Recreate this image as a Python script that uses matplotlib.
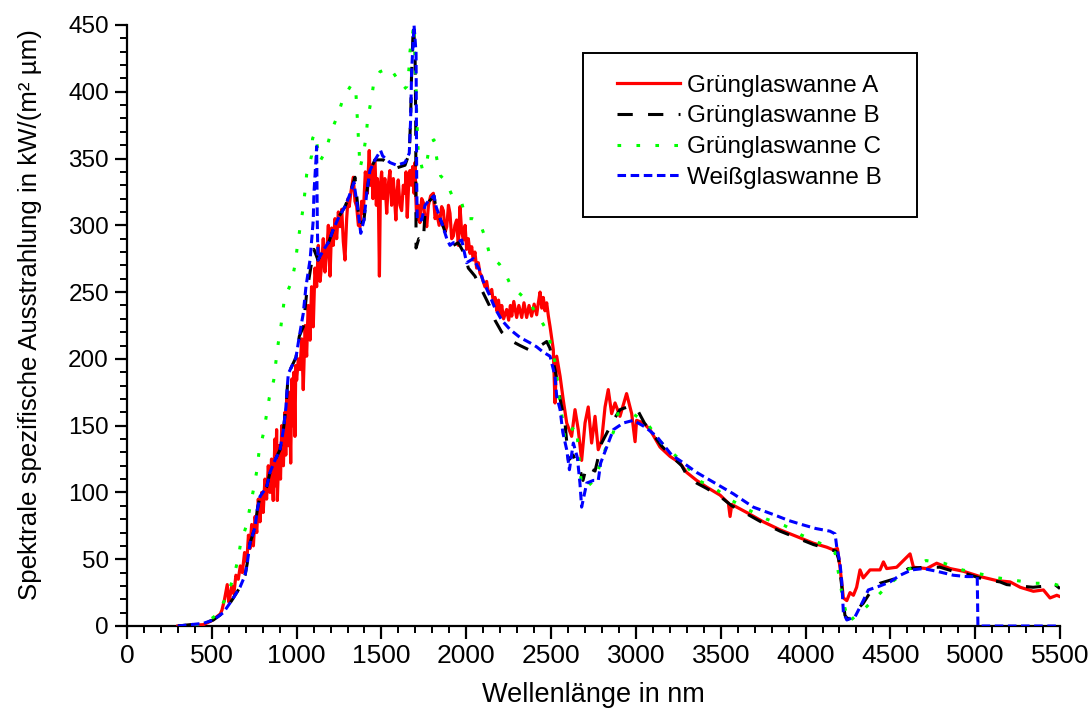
import matplotlib
matplotlib.use('Agg')
import matplotlib.pyplot as plt
from matplotlib.ticker import MultipleLocator
from matplotlib.patches import Rectangle

plt.rcParams['font.family'] = ['Liberation Sans', 'DejaVu Sans']

# Gruenglaswanne A (red, noisy)
wl_a = [300, 450, 500, 550, 560, 575, 591, 600, 607, 618, 630, 642, 656, 668, 680, 693, 706, 716,
        725, 735, 745, 755, 765, 774, 784, 794, 803, 813, 823, 833, 843, 852, 862, 872, 877, 882,
        886, 897, 905, 912, 922, 931, 936, 941, 951, 958, 965, 972, 978, 984, 990, 995,
        1000, 1010, 1020, 1030, 1039, 1050, 1059, 1068, 1079, 1088, 1098, 1108, 1118, 1128, 1138,
        1147, 1157, 1167, 1177, 1187, 1197, 1206, 1216, 1226, 1236, 1246, 1256, 1266, 1275, 1285,
        1295, 1303, 1310, 1320, 1334, 1344, 1354, 1364, 1374, 1383, 1393, 1405, 1417, 1428, 1435,
        1442, 1450, 1462, 1470, 1476, 1482, 1488, 1494, 1501, 1510, 1520, 1531, 1540, 1550, 1560,
        1570, 1585, 1592, 1599, 1609, 1619, 1629, 1639, 1645, 1652, 1660, 1668, 1676, 1684, 1692,
        1698, 1703, 1708, 1717, 1727, 1737, 1747, 1757, 1767, 1777, 1790, 1806, 1816, 1826, 1840,
        1855, 1865, 1875, 1885, 1895, 1904, 1914, 1924, 1933, 1943, 1953, 1963, 1973, 1983, 1993,
        2002, 2012, 2022, 2032, 2041, 2051, 2061, 2071, 2081, 2091, 2100, 2110, 2120, 2130, 2140,
        2150, 2160, 2170, 2180, 2190, 2200, 2209, 2220, 2238, 2250, 2260, 2268, 2280, 2297, 2310,
        2327, 2340, 2356, 2370, 2385, 2400, 2415, 2425, 2435, 2445, 2454, 2464, 2474, 2484, 2494,
        2513, 2523, 2533, 2553, 2572, 2592, 2621, 2641, 2660, 2680, 2700, 2719, 2739,
        2759, 2778, 2798, 2818, 2837, 2857, 2877, 2906, 2945, 2975, 2995, 3004, 3044, 3083, 3142,
        3201, 3260, 3299, 3358, 3417, 3496, 3545, 3555, 3565, 3653, 3751, 3850, 3948, 4046, 4125,
        4164, 4188, 4203, 4223, 4243, 4262, 4282, 4301, 4321, 4340, 4380, 4439, 4459, 4478, 4537,
        4616, 4636, 4714, 4773, 4852, 4930, 5029, 5127, 5206, 5265, 5343, 5402, 5441, 5481, 5500]
val_a = [0, 1, 4, 9, 12, 20, 31, 18, 22, 30, 24, 38, 35, 45, 40, 55, 48, 68,
         58, 76, 60, 82, 70, 95, 78, 100, 85, 110, 95, 120, 100, 125, 94, 140, 105, 147,
         94, 135, 110, 150, 120, 160, 128, 170, 135, 175, 122, 185, 150, 190, 142, 195,
         184, 200, 192, 215, 177, 225, 202, 240, 214, 254, 224, 268, 254, 285, 258,
         270, 290, 265, 279, 300, 262, 298, 285, 305, 290, 310, 299, 312, 288, 274,
         305, 320, 314, 325, 336, 318, 314, 300, 299, 318, 309, 340, 324, 356, 330,
         345, 320, 349, 315, 335, 320, 262, 330, 340, 320, 335, 309, 330, 341, 315,
         335, 304, 325, 334, 315, 311, 330, 324, 340, 306, 330, 341, 330, 344, 324,
         347, 320, 304, 315, 302, 320, 317, 305, 299, 315, 322, 324, 305, 309, 300,
         314, 311, 295, 299, 315, 309, 290, 292, 300, 304, 285, 314, 295, 289, 300,
         282, 290, 279, 284, 274, 280, 268, 272, 264, 262, 258, 254, 258, 250, 249,
         252, 242, 246, 236, 244, 232, 240, 230, 237, 229, 240, 232, 243, 231, 240,
         231, 242, 231, 240, 232, 241, 233, 242, 250, 238, 246, 236, 242, 232, 224,
         207, 167, 202, 187, 169, 152, 142, 162, 147, 124, 152, 164, 137,
         157, 132, 139, 164, 177, 159, 167, 157, 174, 159, 138, 154, 152, 147, 134,
         127, 122, 115, 109, 104, 98, 92, 82, 91, 85, 78, 72, 67, 62, 59,
         57, 58, 44, 21, 19, 25, 23, 29, 42, 36, 42, 42, 48, 43, 44,
         54, 44, 43, 47, 43, 41, 37, 34, 33, 29, 26, 27, 21, 23, 22]

# Gruenglaswanne B (black, dashed)
wl_b = [300, 450, 509, 568, 617, 666, 696, 709, 725, 755, 768, 784, 823, 843, 872, 902, 922, 937,
        951, 996, 1016, 1039, 1059, 1083, 1102, 1126, 1156, 1191, 1216, 1252, 1285, 1310, 1344,
        1364, 1374, 1397, 1413, 1432, 1462, 1511, 1550, 1590, 1639, 1664, 1672, 1678, 1688, 1698,
        1702, 1704, 1720, 1747, 1757, 1782, 1810, 1822, 1855, 1885, 1924, 1953, 1992, 2012, 2051,
        2097, 2136, 2169, 2209, 2258, 2317, 2366, 2415, 2474, 2493, 2523, 2553, 2582, 2602, 2630,
        2650, 2670, 2688, 2710, 2729, 2759, 2798, 2867, 2906, 2950, 3004, 3050, 3092, 3150, 3211,
        3270, 3300, 3358, 3417, 3496, 3565, 3653, 3751, 3850, 3948, 4046, 4125, 4180, 4195, 4213,
        4232, 4250, 4280, 4300, 4340, 4380, 4439, 4517, 4606, 4700, 4793, 4870, 4950, 5050, 5146,
        5186, 5260, 5341, 5420, 5460, 5500]
val_b = [0, 2, 4.5, 10, 19, 29, 38, 47, 62, 74, 87, 97, 104, 115, 124, 132, 147, 164,
         189, 201, 217, 224, 249, 268, 282, 274, 281, 288, 297, 307, 314, 322, 336,
         309, 300, 304, 324, 341, 349, 349, 345, 343, 345, 354, 380, 416, 450, 430,
         380, 283, 290, 288, 310, 318, 322, 312, 302, 292, 285, 287, 278, 268, 262,
         250, 240, 229, 220, 214, 210, 207, 208, 213, 208, 192, 170, 152, 124, 128,
         122, 117, 109, 120, 118, 116, 137, 154, 162, 164, 163, 152, 145, 135, 127,
         120, 113, 107, 103, 97, 90, 84, 77, 71, 66, 61, 58, 56, 50, 30,
         8, 5, 8, 12, 17, 25, 32, 35, 43, 44, 44, 41, 39, 35, 33,
         31, 30, 29, 30, 32, 28]

# Gruenglaswanne C (green, dotted)
wl_c = [400, 460, 525, 588, 627, 653, 670, 706, 725, 747, 765, 778, 804, 821, 839, 865, 878, 892,
        908, 928, 971, 990, 1004, 1020, 1036, 1049, 1059, 1088, 1094, 1108, 1138, 1173, 1203, 1244,
        1274, 1326, 1350, 1360, 1374, 1393, 1409, 1419, 1440, 1455, 1491, 1550, 1592, 1633, 1650,
        1662, 1668, 1684, 1692, 1698, 1704, 1708, 1717, 1743, 1767, 1786, 1810, 1826, 1849, 1880,
        1914, 1969, 1997, 2036, 2077, 2114, 2140, 2195, 2234, 2262, 2331, 2366, 2431, 2484, 2507,
        2533, 2537, 2553, 2569, 2582, 2610, 2641, 2655, 2665, 2680, 2720, 2759, 2824, 2867, 2893,
        2981, 3064, 3152, 3211, 3284, 3368, 3466, 3565, 3663, 3771, 3879, 3977, 4085, 4174, 4191,
        4220, 4252, 4340, 4419, 4500, 4600, 4710, 4816, 4924, 5029, 5136, 5245, 5352, 5451, 5500]
val_c = [0, 2, 8, 22, 36, 49, 62, 76, 89, 103, 116, 130, 144, 157, 171, 184, 198, 212,
         225, 245, 258, 270, 284, 298, 311, 325, 338, 352, 365, 369, 348, 356, 370, 383,
         395, 406, 398, 375, 343, 353, 366, 380, 394, 407, 415, 418, 410, 402, 404,
         417, 430, 444, 451, 420, 404, 381, 355, 341, 347, 362, 364, 350, 337, 333,
         323, 319, 305, 305, 303, 290, 277, 271, 263, 255, 247, 243, 231, 219, 205,
         193, 179, 167, 153, 139, 145, 150, 141, 126, 104, 105, 110, 134, 145, 159,
         159, 152, 137, 130, 122, 109, 103, 94, 87, 80, 75, 68, 62, 55, 42,
         20, 3, 12, 22, 32, 42, 49, 47, 42, 39, 36, 34, 32, 32, 30]

# Weissglaswanne B (blue, short dashes)
wl_w = [300, 450, 509, 568, 617, 666, 696, 709, 725, 755, 768, 784, 823, 843, 872, 902, 922, 937,
        945, 951, 996, 1016, 1039, 1055, 1080, 1098, 1102, 1114, 1118, 1122, 1126, 1156, 1191, 1216,
        1252, 1285, 1310, 1338, 1364, 1378, 1397, 1413, 1432, 1462, 1495, 1507, 1550, 1590, 1639,
        1664, 1672, 1678, 1692, 1704, 1706, 1708, 1711, 1737, 1757, 1782, 1810, 1822, 1855, 1885,
        1904, 1924, 1943, 1973, 2002, 2041, 2077, 2100, 2136, 2169, 2209, 2258, 2317, 2376, 2415,
        2454, 2494, 2523, 2533, 2553, 2569, 2592, 2608, 2631, 2655, 2670, 2680, 2710, 2749, 2778,
        2792, 2828, 2867, 2926, 2985, 3054, 3122, 3211, 3270, 3358, 3466, 3574, 3692, 3820, 3900,
        3977, 4060, 4144, 4174, 4184, 4203, 4213, 4223, 4243, 4292, 4340, 4370, 4439, 4498, 4557,
        4626, 4694, 4773, 4871, 4950, 5012, 5016, 5500]
val_w = [0, 2, 4.5, 10, 19, 29, 38, 47, 62, 74, 87, 97, 104, 115, 124, 132, 147, 164,
         179, 189, 201, 217, 234, 254, 275, 304, 324, 349, 359, 300, 274, 281, 288, 297,
         307, 314, 322, 332, 309, 294, 304, 324, 341, 349, 356, 352, 347, 345, 347,
         354, 379, 416, 450, 429, 379, 329, 304, 304, 315, 319, 322, 314, 302, 290,
         285, 287, 287, 289, 272, 275, 267, 258, 248, 238, 229, 222, 216, 212, 209,
         205, 202, 187, 172, 162, 145, 132, 117, 137, 126, 107, 89, 107, 109, 109,
         122, 134, 147, 152, 154, 149, 142, 128, 123, 115, 107, 99, 89, 83, 79,
         76, 73, 71, 69, 59, 47, 34, 10, 4.5, 7, 19, 27, 30, 33, 38,
         42, 43, 41, 38, 37, 37, 0, 0]

fig = plt.figure(figsize=(10.9, 7.16), dpi=100)
ax = fig.add_axes([0.1165, 0.1257, 0.856, 0.8394])

ax.plot(wl_a, val_a, '-', color='#ff0000', lw=2.3, label='Grünglaswanne A', zorder=3)
ax.plot(wl_b, val_b, color='black', lw=2.2, linestyle=(0, (5, 5)), label='Grünglaswanne B', zorder=4)
ax.plot(wl_c, val_c, color='#00ff00', lw=2.2, linestyle=(0, (1.2, 5)), label='Grünglaswanne C', zorder=5)
ax.plot(wl_w, val_w, color='#0000ff', lw=2.2, linestyle=(0, (2.8, 1.5)), label='Weißglaswanne B', zorder=6)

ax.set_xlim(0, 5500)
ax.set_ylim(0, 450)
ax.xaxis.set_major_locator(MultipleLocator(500))
ax.xaxis.set_minor_locator(MultipleLocator(100))
ax.yaxis.set_major_locator(MultipleLocator(50))
ax.yaxis.set_minor_locator(MultipleLocator(10))
ax.spines['top'].set_visible(False)
ax.spines['right'].set_visible(False)
for s in ['left', 'bottom']:
    ax.spines[s].set_linewidth(1.6)
ax.tick_params(which='major', direction='out', length=9, width=1.6)
ax.tick_params(which='minor', direction='out', length=5, width=1.4)
ax.tick_params(axis='x', which='major', labelsize=19, pad=4)
ax.tick_params(axis='y', which='major', labelsize=17.5, pad=4)

ax.set_xlabel('Wellenlänge in nm', fontsize=19.5, labelpad=10)
ax.set_ylabel('Spektrale spezifische Ausstrahlung in kW/(m² µm)', fontsize=18.6)
ax.yaxis.set_label_coords(-0.091, 0.519)

# legend box drawn separately so the padding matches
ax.add_patch(Rectangle((0.4887, 0.6805), 0.358, 0.2729, transform=ax.transAxes,
                       facecolor='white', edgecolor='black', lw=1.4, zorder=10))
leg = ax.legend(loc='upper left', bbox_to_anchor=(0.525, 0.9176), fontsize=17.5, frameon=False,
                handlelength=2.6, handletextpad=0.29, labelspacing=0.36, borderpad=0,
                borderaxespad=0)
leg.set_zorder(11)

fig.savefig('out.png', dpi=100)
